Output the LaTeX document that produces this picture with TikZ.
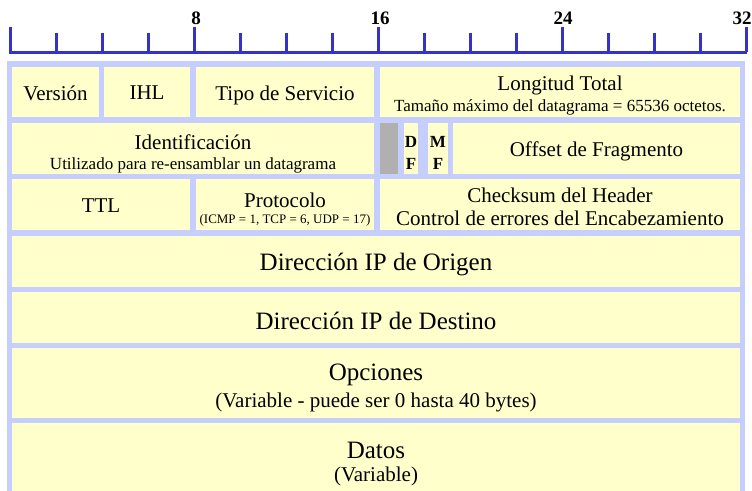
\documentclass[tikz,border=0pt]{standalone}
\usepackage{fontspec}
\setmainfont{Liberation Serif}
\usepackage{xcolor}
\usepackage{tikz}
\usetikzlibrary{positioning}
\definecolor{kregla}{HTML}{3333CC}
\definecolor{kborde}{HTML}{C6CEFF}
\definecolor{kcampo}{HTML}{FFFFCC}
\definecolor{kgris}{HTML}{B0B0B0}
\newcommand\enorme{\fontsize{25}{28}\selectfont}
\newcommand\grande{\fontsize{21}{23}\selectfont}
\newcommand\chico{\fontsize{17}{19}\selectfont}
\newcommand\diminuto{\fontsize{13}{15}\selectfont}

\begin{document}
\begin{tikzpicture}[x=1pt, y=-1pt,
  campo/.style={fill=kcampo, inner sep=0pt, outer sep=0pt, anchor=north west},
  tam/.style 2 args={minimum width=#1pt, minimum height=#2pt},
  texto/.style={align=center, font=\grande, inner sep=0pt, yshift=#1},
  texto/.default=0pt,
  numbit/.style={font=\fontsize{19}{21}\selectfont\bfseries, anchor=base, inner sep=0pt},
  regla/.style={kregla, line width=3pt}]

  \useasboundingbox (0,0) rectangle (752,490);

  %% Ruler
  \draw[regla, line cap=rect] (10,52) -- (745,52);
  \foreach \n in {0,2,...,32}{
    \draw[regla] ({10+23*\n},52) -- ({10+23*\n},33);
  }
  \foreach \n in {0,8,16,24,32}{
    \draw[regla] ({10+23*\n},52) -- ({10+23*\n},27);
  }
  \node[numbit] (bit8) at (196,24) {8};
  \node[numbit] (bit16) at (380,24) {16};
  \node[numbit] (bit24) at (563,24) {24};
  \node[numbit] (bit32) at (742,24) {32};

  %% Table background
  \fill[kborde] (7,61) rectangle (745,500);

  %% Row 1
  \node[campo, tam={87}{50}] (version) at (12,67) {};
  \node[campo, tam={86}{50}] (ihl) at (104,67) {};
  \node[campo, tam={178}{50}] (tipo) at (196,67) {};
  \node[campo, tam={360}{50}] (longitud) at (380,67) {};
  \node[texto=-1pt] (tversion) at (version.center) {Versión};
  \node[texto=-1pt] (tihl) at (ihl.center) {IHL};
  \node[texto=-3pt] (ttipo) at (tipo.center) {Tipo de Servicio};
  \node[texto=-4pt] (tlongitud) at (longitud.center)
    {Longitud Total\\[-2pt]{\chico Tamaño máximo del datagrama = 65536 octetos.}};

  %% Row 2
  \node[campo, tam={362}{51}] (ident) at (12,123) {};
  \node[campo, fill=kgris, tam={18}{51}] (reservado) at (380,123) {};
  \node[campo, tam={14}{51}] (df) at (404,123) {};
  \node[campo, tam={20}{51}] (mf) at (428,123) {};
  \node[campo, tam={287}{51}] (offset) at (453,123) {};
  \node[texto=-5pt] (tident) at (ident.center)
    {Identificación\\[-3pt]{\chico Utilizado para re-ensamblar un datagrama}};
  \node[texto=-4pt, font=\chico\bfseries] (tdf) at (df.center) {D\\[3pt]F};
  \node[texto=-4pt, font=\chico\bfseries] (tmf) at (mf.center) {M\\[3pt]F};
  \node[texto=-3pt] (toffset) at (offset.center) {Offset de Fragmento};

  %% Row 3
  \node[campo, tam={178}{51}] (ttl) at (12,179) {};
  \node[campo, tam={178}{51}] (protocolo) at (196,179) {};
  \node[campo, tam={360}{51}] (checksum) at (380,179) {};
  \node[texto=-1pt] (tttl) at (ttl.center) {TTL};
  \node[texto=-5pt] (tprotocolo) at (protocolo.center)
    {Protocolo\\[-7pt]{\diminuto (ICMP = 1, TCP = 6, UDP = 17)}};
  \node[texto=-2pt] (tchecksum) at (checksum.center)
    {Checksum del Header\\[0pt]Control de errores del Encabezamiento};

  %% Addresses, options, data
  \node[campo, tam={728}{51}] (origen) at (12,236) {};
  \node[campo, tam={728}{51}] (destino) at (12,292) {};
  \node[campo, tam={728}{70}] (opciones) at (12,348) {};
  \node[campo, tam={728}{77}] (datos) at (12,423) {};
  \node[texto=-3pt, font=\enorme] (torigen) at (origen.center) {Dirección IP de Origen};
  \node[texto=-3pt, font=\enorme] (tdestino) at (destino.center) {Dirección IP de Destino};
  \node[texto=-5pt, font=\enorme] (topciones) at (opciones.center)
    {Opciones\\[-1pt]{\grande (Variable - puede ser 0 hasta 40 bytes)}};
  \node[texto=-3pt, font=\enorme] (tdatos) at (datos.center)
    {Datos\\[-5pt]{\grande (Variable)}};

\end{tikzpicture}
\end{document}
